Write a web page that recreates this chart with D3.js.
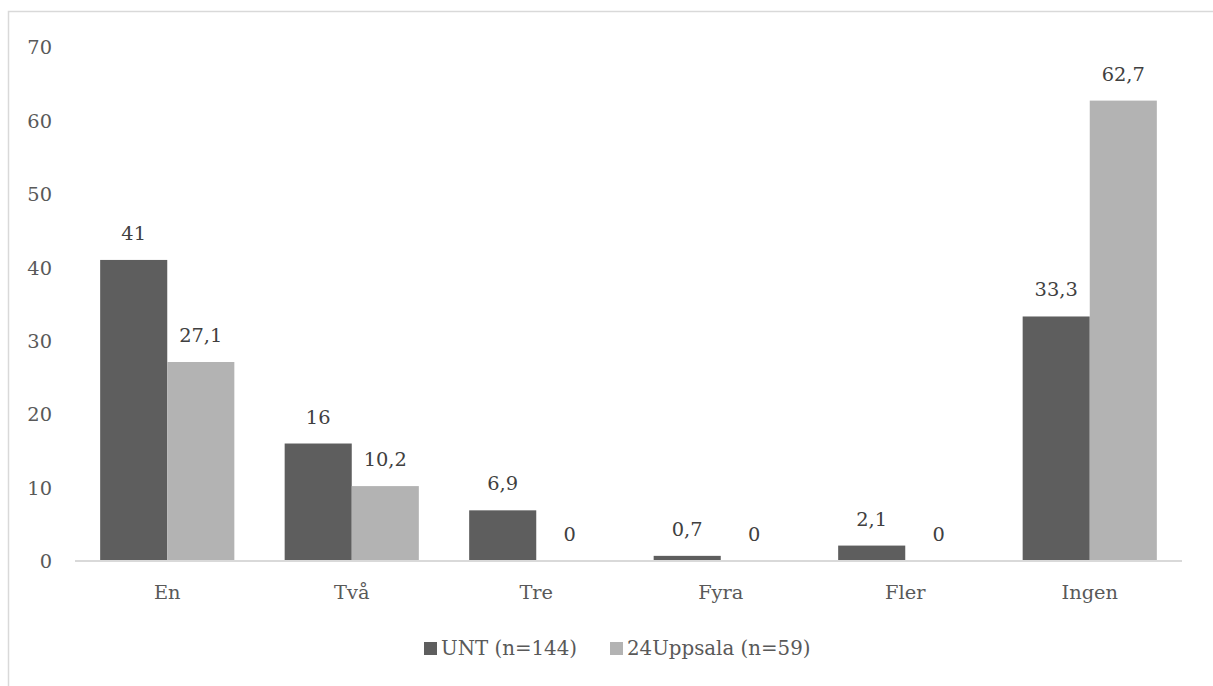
<!DOCTYPE html>
<html><head><meta charset="utf-8">
<script src="https://cdn.jsdelivr.net/npm/d3@7"></script>
<style>body{margin:0;background:#fff}svg{display:block;font-family:"DejaVu Serif",serif}</style>
</head><body><svg id="c" width="1213" height="686"></svg>
<script>
const categories = ["En","Två","Tre","Fyra","Fler","Ingen"];
const seriesNames = ["UNT (n=144)","24Uppsala (n=59)"];
const unt = [41,16,6.9,0.7,2.1,33.3];
const uppsala = [27.1,10.2,0,0,0,62.7];
const yTicks = [0,10,20,30,40,50,60,70];
const colors = ["#5e5e5e","#b3b3b3"];

(function(){
const svg = d3.select("#c");
const W=1213,H=686;
const mLeft=75,mRight=1182,mTop=47,mBottom=561;
svg.append("rect").attr("x",8.5).attr("y",11.5).attr("width",W).attr("height",H)
  .attr("fill","#fff").attr("stroke","#d9d9d9").attr("stroke-width",1.5);

const x = d3.scaleBand().domain(categories).range([mLeft,mRight]).paddingInner(0).paddingOuter(0);
const y = d3.scaleLinear().domain([0,70]).range([mBottom,mTop]);
const bw = x.bandwidth();
const barW = bw/(2+0.75);
const inner = d3.scaleBand().domain([0,1]).range([0,2*barW]);

const yAxis = d3.axisLeft(y).tickValues(yTicks).tickSize(0).tickPadding(0).tickFormat(d3.format("d"));
const ga = svg.append("g").attr("transform",`translate(52,0)`).call(yAxis);
ga.select(".domain").remove();
ga.selectAll("text").attr("font-size",19.4).attr("fill","#595959").attr("font-family","DejaVu Serif").attr("dy","0.35em");

const data = [unt,uppsala];
data.forEach((vals,s)=>{
  const g = svg.append("g");
  g.selectAll("rect").data(vals).join("rect")
    .attr("x",(d,i)=>x(categories[i])+(bw-2*barW)/2+inner(s))
    .attr("width",barW)
    .attr("y",d=>y(d))
    .attr("height",d=>y(0)-y(d))
    .attr("fill",colors[s]);
  g.selectAll("text").data(vals).join("text")
    .attr("x",(d,i)=>x(categories[i])+(bw-2*barW)/2+inner(s)+barW/2)
    .attr("y",d=>y(d)-20)
    .attr("text-anchor","middle").attr("font-size",19.4).attr("fill","#404040")
    .text(d=>String(d).replace(".",","));
});

svg.append("line").attr("x1",mLeft).attr("x2",mRight).attr("y1",y(0)).attr("y2",y(0))
  .attr("stroke","#d9d9d9").attr("stroke-width",2);

const xAxis = d3.axisBottom(x).tickSize(0).tickPadding(0);
const gx = svg.append("g").attr("transform",`translate(0,${mBottom})`).call(xAxis);
gx.select(".domain").remove();
gx.selectAll("text").attr("font-size",19.4).attr("fill","#595959").attr("font-family","DejaVu Serif").attr("dy",0).attr("y",38);

const legX=[424,610];
seriesNames.forEach((n,i)=>{
  svg.append("rect").attr("x",legX[i]).attr("y",642).attr("width",13).attr("height",13).attr("fill",colors[i]);
  svg.append("text").attr("x",legX[i]+17).attr("y",655).attr("font-size",19.8).attr("fill","#595959").text(n);
});
})();
</script></body></html>
